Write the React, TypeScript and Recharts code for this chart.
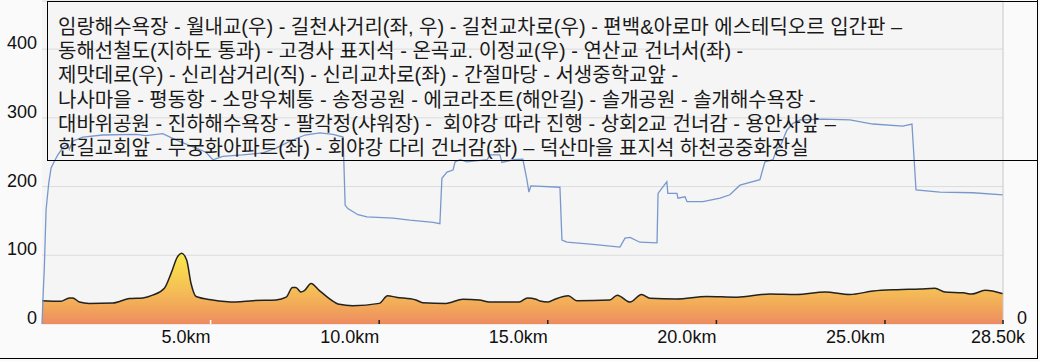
import React from "react";
import {
  ComposedChart,
  Line,
  Area,
  XAxis,
  YAxis,
  CartesianGrid,
} from "recharts";

// distance ticks along the bottom
const kmTicks = [5, 10, 15, 20, 25, 28.5];
const kmLabels = ["5.0km", "10.0km", "15.0km", "20.0km", "25.0km", "28.50k"];
const valueTicks = [0, 100, 200, 300, 400];

// blue track line
const trackKm = [
  0, 0.03, 0.07, 0.12, 0.2, 0.27, 0.36, 0.47, 0.61, 0.76, 0.81, 0.91, 1.21, 1.8,
  2.79, 3.08, 3.58, 3.97, 4.57, 4.86, 5.07, 5.36, 5.95, 6.55, 6.94, 7.36, 7.8,
  8.24, 8.63, 8.93, 8.99, 9.07, 9.37, 9.64, 10.41, 10.91, 11.6, 11.8, 11.86,
  12.01, 12.19, 12.25, 12.4, 12.6, 13.2, 13.29, 13.58, 13.64, 13.97, 14.26,
  14.38, 14.44, 14.5, 15.36, 15.42, 15.57, 16.34, 17.14, 17.29, 17.44, 17.73,
  18.24, 18.27, 18.42, 18.53, 18.56, 18.83, 18.86, 19.07, 19.13, 19.6, 20.11,
  20.4, 20.7, 21.29, 21.44, 21.68, 21.8, 21.89, 22.09, 22.27, 22.48, 23.16,
  23.96, 24.64, 25.53, 25.8, 25.92, 26.63, 27.61, 28.5,
];
const trackValue = [
  0, 39, 83, 166, 205, 227, 236, 246, 256, 262, 254, 266, 272, 275, 276, 274,
  277, 268, 256, 250, 239, 244, 246, 249, 256, 266, 275, 278, 276, 272, 173,
  168, 159, 156, 154, 151, 148, 146, 212, 221, 224, 236, 239, 236, 239, 246,
  246, 235, 239, 240, 210, 192, 201, 199, 122, 119, 116, 112, 125, 126, 119,
  118, 190, 200, 207, 190, 190, 183, 185, 178, 178, 183, 188, 202, 210, 236,
  239, 256, 258, 282, 292, 297, 298, 297, 291, 288, 291, 195, 192, 191, 188,
];

// elevation profile
const elevKm = [
  0, 0.56, 0.81, 0.91, 1.11, 1.4, 2.1, 2.59, 2.99, 3.28, 3.63, 3.83, 4.02, 4.14,
  4.29, 4.42, 4.57, 5.06, 5.75, 6.25, 6.94, 7.24, 7.43, 7.53, 7.68, 7.78, 7.98,
  8.22, 8.52, 8.82, 9.21, 10.0, 10.25, 10.5, 11.09, 11.29, 11.98, 12.48, 12.97,
  13.27, 14.15, 14.4, 14.65, 14.77, 15.01, 15.21, 15.61, 15.86, 16.84, 17.06,
  17.44, 17.78, 18.03, 18.82, 19.71, 20.6, 21.59, 22.38, 23.22, 23.96, 24.65,
  25.35, 26.04, 26.48, 26.78, 27.32, 27.57, 27.97, 28.5,
];
const elevValue = [
  34, 33, 38, 38, 32, 30, 30.5, 37, 38, 42, 52, 74, 98, 103, 93, 59, 40, 35, 32,
  34, 35, 39, 53, 53, 46.5, 48.5, 59, 49, 37, 28.6, 26.7, 30, 41, 39, 35, 31,
  30, 36, 35, 32, 32, 38, 36, 33.5, 32, 36, 41, 34, 35, 42, 32, 43, 37.5, 36.5,
  40, 39, 43.7, 43, 46.5, 43, 48, 50, 51, 52, 46.5, 45.5, 43.5, 49, 44,
];

const routeLines = [
  "임랑해수욕장 - 월내교(우) - 길천사거리(좌, 우) - 길천교차로(우) - 편백&아로마 에스테딕오르 입간판 –",
  "동해선철도(지하도 통과) - 고경사 표지석 - 온곡교. 이정교(우) - 연산교 건너서(좌) -",
  "제맛데로(우) - 신리삼거리(직) - 신리교차로(좌) - 간절마당 - 서생중학교앞 -",
  "나사마을 - 평동항 - 소망우체통 - 송정공원 - 에코라조트(해안길) - 솔개공원 - 솔개해수욕장 -",
  "대바위공원 - 진하해수욕장 - 팔각정(샤워장) -  회야강 따라 진행 - 상회2교 건너감 - 용안사앞 –",
  "한길교회앞 - 무궁화아파트(좌) - 회야강 다리 건너감(좌) – 덕산마을 표지석 하천공중화장실",
];

type Row = { km: number; track?: number; elev?: number };

const buildRows = (): Row[] => {
  const map = new Map<number, Row>();
  trackKm.forEach((k, i) => {
    const r = map.get(k) || { km: k };
    r.track = trackValue[i];
    map.set(k, r);
  });
  elevKm.forEach((k, i) => {
    const r = map.get(k) || { km: k };
    r.elev = elevValue[i];
    map.set(k, r);
  });
  return Array.from(map.values()).sort((a, b) => a.km - b.km);
};

const rows = buildRows();

const FONT = '"Liberation Sans", Arial, "Noto Sans CJK KR", sans-serif';

const KmTick = (p: any) => {
  const i = kmTicks.indexOf(p.payload.value);
  const last = i === kmTicks.length - 1;
  return (
    <g>
      <line
        x1={p.x}
        x2={p.x}
        y1={p.y - 4}
        y2={p.y}
        stroke={i === 0 ? "#ffffff" : "#222"}
        strokeWidth={1.5}
      />
      <text
        x={last ? p.x + 22 : p.x}
        y={p.y + 19}
        textAnchor="end"
        fontSize={18}
        fontFamily={FONT}
        fill="#111"
      >
        {kmLabels[i]}
      </text>
    </g>
  );
};

const LeftTick = (p: any) => (
  <text
    x={p.x - 5}
    y={p.y}
    textAnchor="end"
    fontSize={18}
    fontFamily={FONT}
    fill="#111"
  >
    {p.payload.value}
  </text>
);

const RightTick = (p: any) => (
  <text
    x={p.x + 14}
    y={p.y}
    textAnchor="start"
    fontSize={18}
    fontFamily={FONT}
    fill="#111"
  >
    {p.payload.value}
  </text>
);

export default function App() {
  return (
    <div
      style={{
        position: "absolute",
        left: 0,
        top: 0,
        width: 1040,
        height: 361,
        background: "#fafafa",
        fontFamily: FONT,
      }}
    >
      <ComposedChart
        width={1040}
        height={361}
        data={rows}
        margin={{ top: 1, right: 0, bottom: 0, left: 0 }}
      >
        <defs>
          <linearGradient id="elevFill" x1="0" y1="0" x2="0" y2="1">
            <stop offset="0" stopColor="#fbe94a" />
            <stop offset="0.5" stopColor="#f5c055" />
            <stop offset="0.75" stopColor="#f2a85a" />
            <stop offset="1" stopColor="#ed8b60" />
          </linearGradient>
        </defs>
        <CartesianGrid
          yAxisId="left"
          vertical={false}
          stroke="#dcdcdc"
          fill="#f5f5f5"
        />
        <XAxis
          dataKey="km"
          type="number"
          domain={[0, 28.5]}
          ticks={kmTicks}
          interval={0}
          height={37}
          tickSize={0}
          tickMargin={0}
          axisLine={false}
          tickLine={false}
          tick={KmTick}
        />
        <YAxis
          yAxisId="left"
          width={42}
          domain={[0, 470]}
          ticks={valueTicks}
          interval={0}
          tickSize={0}
          tickMargin={0}
          axisLine={false}
          tickLine={false}
          tick={LeftTick}
        />
        <YAxis
          yAxisId="right"
          orientation="right"
          width={37}
          domain={[0, 470]}
          ticks={[0]}
          tickSize={0}
          tickMargin={0}
          axisLine={{ stroke: "#c8c8c8" }}
          tickLine={false}
          tick={RightTick}
        />
        <Line
          yAxisId="left"
          type="linear"
          dataKey="track"
          stroke="#7898cd"
          strokeWidth={1.3}
          dot={false}
          connectNulls
          isAnimationActive={false}
        />
        <Area
          yAxisId="right"
          type="monotone"
          dataKey="elev"
          stroke="#222"
          strokeWidth={1.5}
          fill="url(#elevFill)"
          fillOpacity={1}
          connectNulls
          isAnimationActive={false}
        />
      </ComposedChart>
      <div
        style={{
          position: "absolute",
          left: 47,
          top: 1,
          width: 991,
          height: 160,
          boxSizing: "border-box",
          border: "1px solid #000",
          padding: "13px 0 0 10px",
          fontSize: 20,
          lineHeight: "24.2px",
          color: "#1a1a1a",
          whiteSpace: "pre",
          overflow: "hidden",
        }}
      >
        {routeLines.map((l) => (
          <div key={l}>{l}</div>
        ))}
      </div>
      <div
        style={{
          position: "absolute",
          left: 0,
          top: 0,
          width: 1038,
          height: 359,
          boxSizing: "border-box",
          borderRight: "1px solid #000",
          borderBottom: "1px solid #000",
          pointerEvents: "none",
        }}
      />
    </div>
  );
}
